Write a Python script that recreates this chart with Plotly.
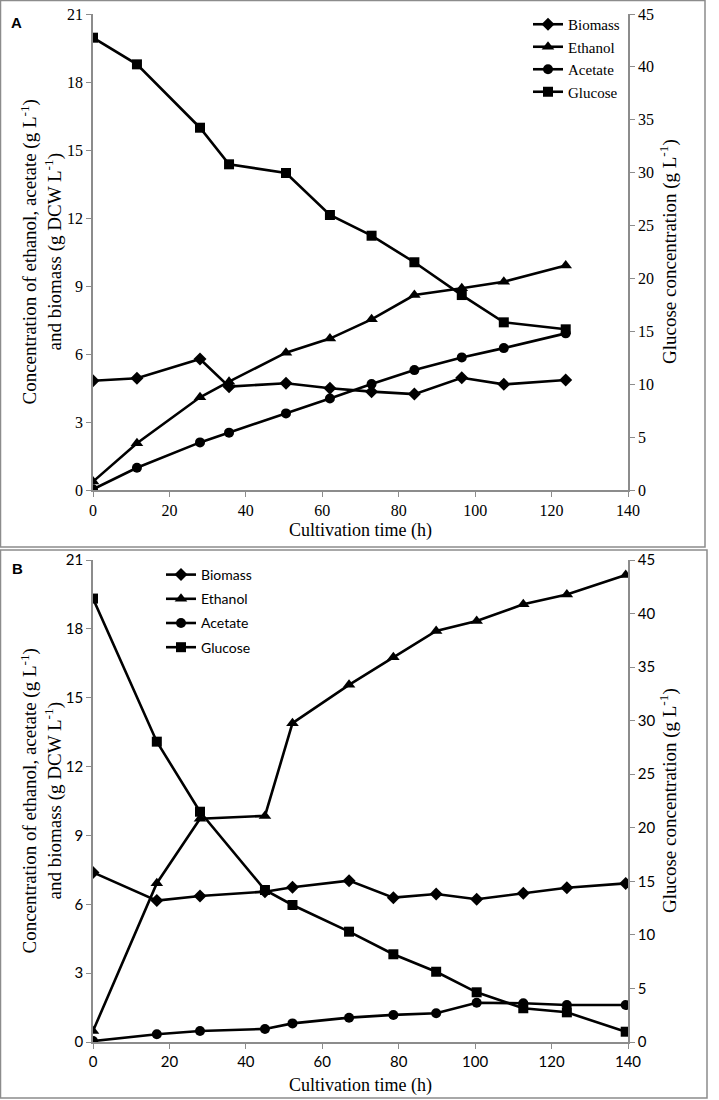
import plotly.graph_objects as go

# ---------------- Panel A data ----------------
time_a = [0, 11.5, 28.0, 35.6, 50.5, 62.0, 72.9, 84.1, 96.5, 107.5, 123.7]
biomass_a = [4.82, 4.93, 5.78, 4.56, 4.71, 4.49, 4.34, 4.23, 4.95, 4.66, 4.85]
ethanol_a = [0.37, 2.06, 4.09, 4.78, 6.06, 6.68, 7.53, 8.60, 8.90, 9.19, 9.90]
acetate_a = [0.03, 0.98, 2.10, 2.53, 3.38, 4.04, 4.68, 5.29, 5.85, 6.26, 6.91]
glucose_a = [42.76, 40.24, 34.25, 30.79, 29.97, 26.0, 24.04, 21.53, 18.43, 15.85, 15.19]

# ---------------- Panel B data ----------------
time_b = [0, 16.7, 28.0, 45.0, 52.2, 67.0, 78.6, 89.8, 100.4, 112.6, 124.0, 139.4]
biomass_b = [7.39, 6.16, 6.36, 6.55, 6.74, 7.03, 6.29, 6.45, 6.22, 6.48, 6.72, 6.91]
ethanol_b = [0.48, 6.92, 9.73, 9.85, 13.89, 15.56, 16.76, 17.91, 18.34, 19.07, 19.50, 20.35]
acetate_b = [0.04, 0.34, 0.48, 0.57, 0.81, 1.06, 1.18, 1.25, 1.71, 1.69, 1.61, 1.61]
glucose_b = [41.4, 28.04, 21.5, 14.19, 12.79, 10.30, 8.19, 6.56, 4.64, 3.15, 2.77, 0.96]

series_names = ["Biomass", "Ethanol", "Acetate", "Glucose"]
symbols = ["diamond", "triangle-up", "circle", "square"]
msizes = [10, 11, 10, 10]

left_ticks = [0, 3, 6, 9, 12, 15, 18, 21]
right_ticks = [0, 5, 10, 15, 20, 25, 30, 35, 40, 45]
x_ticks = [0, 20, 40, 60, 80, 100, 120, 140]

SERIF = "Liberation Serif"
SANS = "Lato"
AXC = "#8c8c8c"

fig = go.Figure()

def add_panel(t, bio, eth, ace, glu, xa, yl, yr, legend, tag):
    vals = [bio, eth, ace, glu]
    for name, sym, ms, v in zip(series_names, symbols, msizes, vals):
        yaxis = yr if name == "Glucose" else yl
        fig.add_trace(go.Scatter(
            x=t, y=v, name=name, mode="lines+markers",
            line=dict(color="black", width=2.6),
            marker=dict(symbol=sym, size=ms, color="black"),
            xaxis=xa, yaxis=yaxis, legend=legend, legendgroup=tag + name,
        ))

add_panel(time_a, biomass_a, ethanol_a, acetate_a, glucose_a, "x", "y", "y2", "legend", "A")
add_panel(time_b, biomass_b, ethanol_b, acetate_b, glucose_b, "x2", "y3", "y4", "legend2", "B")

W, H = 719, 1100
xdom = [93 / W, 628 / W]
ydomA = [1 - 490 / H, 1 - 14 / H]
ydomB = [1 - 1042 / H, 1 - 560 / H]

def base_axis(font, fsize):
    return dict(showgrid=False, zeroline=False, showline=True, linecolor=AXC, linewidth=1.5,
                ticks="outside", ticklen=5, tickcolor=AXC, tickwidth=1.2, automargin=False,
                tickfont=dict(family=font, size=fsize, color="black"))

def xax(font, fsize, anchor):
    d = base_axis(font, fsize)
    d.update(domain=xdom, range=[0, 140], tickvals=x_ticks, anchor=anchor)
    return d

def ylax(font, fsize, dom, anchor):
    d = base_axis(font, fsize)
    d.update(domain=dom, range=[0, 21], tickvals=left_ticks, anchor=anchor)
    return d

def yrax(font, fsize, overlay, anchor):
    d = base_axis(font, fsize)
    d.update(range=[0, 45], tickvals=right_ticks, overlaying=overlay, side="right", anchor=anchor)
    return d

left_title = "Concentration of ethanol, acetate (g L<sup>-1</sup>)<br>and biomass (g DCW L<sup>-1</sup>)"
right_title = "Glucose concentration (g L<sup>-1</sup>)"
x_title = "Cultivation time (h)"

annotations = []
for (ytop, ybot, yx) in [(14, 490, 530), (560, 1042, 1085)]:
    ymid = 1 - (ytop + ybot) / 2 / H
    annotations.append(dict(text=left_title, x=41.5 / W, y=ymid, xref="paper", yref="paper",
                            textangle=-90, showarrow=False, xanchor="center", yanchor="middle",
                            font=dict(family=SERIF, size=19, color="black")))
    annotations.append(dict(text=right_title, x=668 / W, y=ymid, xref="paper", yref="paper",
                            textangle=-90, showarrow=False, xanchor="center", yanchor="middle",
                            font=dict(family=SERIF, size=19, color="black")))
    annotations.append(dict(text=x_title, x=(93 + 628) / 2 / W, y=1 - yx / H, xref="paper", yref="paper",
                            showarrow=False, xanchor="center", yanchor="middle",
                            font=dict(family=SERIF, size=18, color="black")))

annotations.append(dict(text="<b>A</b>", x=16 / W, y=1 - 22 / H, xref="paper", yref="paper",
                        showarrow=False, xanchor="center", yanchor="middle",
                        font=dict(family="Liberation Sans", size=15, color="black")))
annotations.append(dict(text="<b>B</b>", x=17 / W, y=1 - 569 / H, xref="paper", yref="paper",
                        showarrow=False, xanchor="center", yanchor="middle",
                        font=dict(family="Liberation Sans", size=15, color="black")))

shapes = [
    dict(type="rect", xref="paper", yref="paper", x0=0.5 / W, x1=705 / W, y0=1 - 547 / H, y1=1 - 0.5 / H,
         line=dict(color=AXC, width=1.5)),
    dict(type="rect", xref="paper", yref="paper", x0=0.5 / W, x1=707 / W, y0=1 - 1098 / H, y1=1 - 550 / H,
         line=dict(color=AXC, width=1.5)),
]

fig.update_layout(
    width=W, height=H,
    margin=dict(l=0, r=0, t=0, b=0, pad=0, autoexpand=False),
    paper_bgcolor="white", plot_bgcolor="white",
    showlegend=True,
    xaxis=xax(SERIF, 16, "y"),
    yaxis=ylax(SERIF, 16, ydomA, "x"),
    yaxis2=yrax(SERIF, 16, "y", "x"),
    xaxis2=xax(SANS, 15, "y3"),
    yaxis3=ylax(SANS, 15, ydomB, "x2"),
    yaxis4=yrax(SANS, 15, "y3", "x2"),
    legend=dict(x=528 / W, y=1 - 8 / H, xanchor="left", yanchor="top",
                bgcolor="rgba(0,0,0,0)", font=dict(family=SERIF, size=15, color="black"),
                itemwidth=30, tracegroupgap=0, traceorder="grouped"),
    legend2=dict(x=161 / W, y=1 - 559 / H, xanchor="left", yanchor="top",
                 bgcolor="rgba(0,0,0,0)", font=dict(family=SANS, size=14, color="black"),
                 itemwidth=30, tracegroupgap=3, traceorder="grouped"),
    annotations=annotations,
    shapes=shapes,
)

fig.write_html(
    "out.html",
    config={"displayModeBar": False},
    post_script="document.body.style.margin='0px';document.body.style.padding='0px';",
)
